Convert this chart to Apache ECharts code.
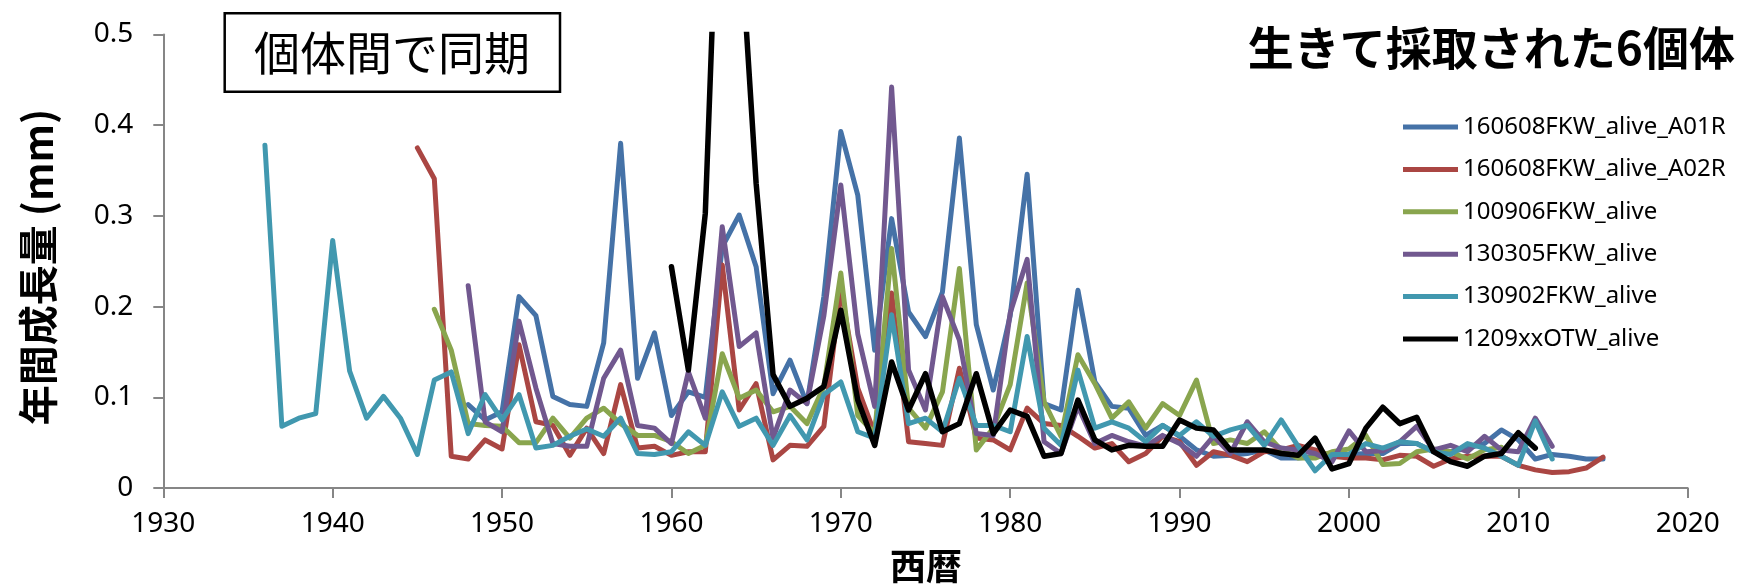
<!DOCTYPE html>
<html>
<head>
<meta charset="utf-8">
<script src="https://cdn.jsdelivr.net/npm/echarts@6/dist/echarts.min.js"></script>
<style>
html,body{margin:0;padding:0;background:#fff;}
#chart{width:1740px;height:585px;}
</style>
</head>
<body>
<div id="chart"></div>
<script>
// ---- data ----
const seriesNames = ["160608FKW_alive_A01R","160608FKW_alive_A02R","100906FKW_alive","130305FKW_alive","130902FKW_alive","1209xxOTW_alive"];
const startYears = [1948, 1945, 1946, 1948, 1936, 1960];

const valuesA01R = [0.092,0.075,0.084,0.211,0.190,0.101,0.092,0.090,0.160,0.380,0.121,0.171,0.080,0.106,0.100,0.266,0.301,0.244,0.104,0.141,0.093,0.211,0.393,0.323,0.152,0.297,0.194,0.167,0.216,0.386,0.180,0.108,0.190,0.346,0.093,0.086,0.218,0.117,0.090,0.088,0.058,0.069,0.057,0.042,0.035,0.036,0.038,0.042,0.033,0.033,0.035,0.035,0.037,0.038,0.038,0.049,0.049,0.040,0.040,0.044,0.049,0.064,0.053,0.032,0.037,0.035,0.032,0.032];
const valuesA02R = [0.375,0.341,0.035,0.032,0.053,0.043,0.158,0.073,0.069,0.036,0.066,0.038,0.114,0.044,0.046,0.036,0.040,0.040,0.246,0.086,0.115,0.031,0.047,0.046,0.068,0.220,0.110,0.060,0.215,0.051,0.049,0.047,0.132,0.055,0.053,0.042,0.088,0.071,0.069,0.057,0.044,0.049,0.029,0.038,0.057,0.051,0.025,0.040,0.036,0.029,0.040,0.042,0.047,0.042,0.035,0.033,0.033,0.031,0.036,0.035,0.024,0.032,0.035,0.035,0.035,0.025,0.020,0.017,0.018,0.022,0.034];
const values100906 = [0.197,0.152,0.071,0.069,0.068,0.050,0.050,0.077,0.055,0.077,0.088,0.071,0.058,0.058,0.051,0.038,0.047,0.148,0.099,0.108,0.084,0.090,0.071,0.112,0.237,0.080,0.060,0.264,0.088,0.066,0.106,0.242,0.042,0.066,0.114,0.226,0.095,0.057,0.147,0.115,0.077,0.095,0.066,0.093,0.080,0.119,0.049,0.053,0.049,0.062,0.042,0.033,0.033,0.040,0.043,0.058,0.026,0.027,0.040,0.043,0.040,0.032,0.042,0.045];
const values130305 = [0.223,0.073,0.062,0.184,0.110,0.049,0.046,0.046,0.121,0.152,0.069,0.066,0.049,0.128,0.077,0.288,0.156,0.171,0.055,0.108,0.093,0.190,0.334,0.170,0.090,0.442,0.130,0.086,0.211,0.163,0.060,0.058,0.193,0.252,0.051,0.038,0.090,0.049,0.058,0.051,0.046,0.058,0.049,0.035,0.057,0.038,0.073,0.051,0.044,0.042,0.038,0.029,0.063,0.040,0.041,0.051,0.068,0.042,0.047,0.040,0.057,0.042,0.040,0.077,0.046];
const values130902 = [0.378,0.068,0.077,0.082,0.273,0.129,0.077,0.101,0.077,0.037,0.119,0.128,0.060,0.103,0.075,0.103,0.044,0.047,0.057,0.065,0.057,0.077,0.038,0.037,0.040,0.062,0.047,0.106,0.068,0.077,0.047,0.080,0.053,0.103,0.117,0.062,0.055,0.191,0.071,0.077,0.062,0.121,0.069,0.069,0.062,0.167,0.066,0.047,0.130,0.066,0.073,0.066,0.051,0.069,0.058,0.073,0.057,0.064,0.069,0.047,0.075,0.046,0.019,0.037,0.037,0.049,0.044,0.051,0.049,0.040,0.037,0.049,0.044,0.035,0.025,0.074,0.032];
const values1209xx = [0.244,0.130,0.303,0.810,0.630,0.336,0.125,0.090,0.099,0.112,0.196,0.097,0.047,0.139,0.086,0.126,0.062,0.071,0.126,0.060,0.086,0.079,0.035,0.038,0.097,0.053,0.042,0.047,0.046,0.046,0.075,0.066,0.064,0.042,0.042,0.042,0.038,0.036,0.055,0.021,0.027,0.066,0.089,0.071,0.078,0.040,0.029,0.024,0.035,0.038,0.061,0.044];

const xTicks = [1930, 1940, 1950, 1960, 1970, 1980, 1990, 2000, 2010, 2020];
const yTicks = [0, 0.1, 0.2, 0.3, 0.4, 0.5];

const allValues = [valuesA01R, valuesA02R, values100906, values130305, values130902, values1209xx];
const colors = ["#4572A7", "#AA4643", "#89A54E", "#71588F", "#4198AF", "#000000"];

// ---- chart ----
const latin = '"Noto Sans", "Noto Sans CJK JP", sans-serif';
const cjk = '"Noto Sans CJK JP", "Noto Sans", sans-serif';

const series = seriesNames.map((name, i) => ({
  name: name,
  type: 'line',
  symbol: 'none',
  clip: true,
  color: colors[i],
  lineStyle: { width: i === 5 ? 5.5 : 5, color: colors[i], join: 'round', cap: 'round' },
  itemStyle: { color: colors[i] },
  data: allValues[i].map((v, k) => [startYears[i] + k, v])
}));

const chart = echarts.init(document.getElementById('chart'), null, { renderer: 'canvas' });
chart.setOption({
  animation: false,
  backgroundColor: '#ffffff',
  grid: { left: 163.3, right: 52.3, top: 34.5, bottom: 97, containLabel: false },
  xAxis: {
    type: 'value',
    min: xTicks[0], max: xTicks[xTicks.length - 1], interval: 10,
    axisLine: { show: true, lineStyle: { color: '#868686', width: 2 } },
    axisTick: { show: true, length: 10, lineStyle: { color: '#868686', width: 2 } },
    splitLine: { show: false },
    axisLabel: { color: '#000', fontSize: 28, fontFamily: latin, margin: 22, formatter: v => String(v) }
  },
  yAxis: {
    type: 'value',
    min: yTicks[0], max: yTicks[yTicks.length - 1], interval: 0.1,
    axisLine: { show: true, lineStyle: { color: '#868686', width: 2 } },
    axisTick: { show: true, length: 10, lineStyle: { color: '#868686', width: 2 } },
    splitLine: { show: false },
    axisLabel: { color: '#000', fontSize: 28, fontFamily: latin, margin: 30,
      formatter: v => (Math.round(v * 10) / 10).toString() }
  },
  legend: {
    orient: 'vertical',
    left: 1403, top: 115,
    padding: 0,
    itemWidth: 55, itemHeight: 5,
    itemGap: 18.4,
    icon: 'rect',
    textStyle: { fontSize: 24, lineHeight: 24, fontFamily: latin, color: '#000' },
    data: seriesNames
  },
  graphic: [
    { type: 'rect', shape: { x: 224.7, y: 13.3, width: 335.3, height: 78.4 },
      style: { fill: '#fff', stroke: '#000', lineWidth: 2.5 }, z: 100 },
    { type: 'text', x: 392, y: 52.5, z: 101,
      style: { text: '個体間で同期', font: '46px ' + cjk, fill: '#000', align: 'center', verticalAlign: 'middle' } },
    { type: 'text', x: 1735, y: 48, z: 101,
      style: { text: '生きて採取された6個体', font: 'bold 46px ' + cjk, fill: '#000', align: 'right', verticalAlign: 'middle' } },
    { type: 'text', x: 926, y: 566, z: 101,
      style: { text: '西暦', font: 'bold 36px ' + cjk, fill: '#000', align: 'center', verticalAlign: 'middle' } },
    { type: 'text', x: 38, y: 267, rotation: Math.PI / 2, z: 101,
      style: { text: '年間成長量 (mm)', font: 'bold 40px ' + cjk, fill: '#000', align: 'center', verticalAlign: 'middle' } }
  ],
  series: series
});
</script>
</body>
</html>
